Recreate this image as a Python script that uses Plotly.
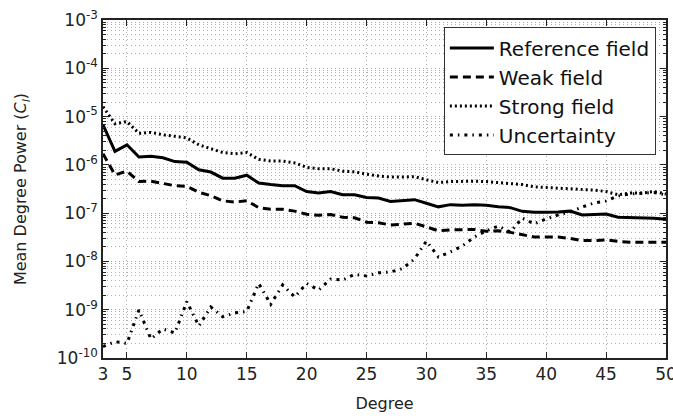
import plotly.graph_objects as go

degree = list(range(3, 51))

reference_field = [6.7e-6, 1.9e-6, 2.6e-6, 1.45e-6, 1.5e-6, 1.4e-6, 1.17e-6, 1.13e-6, 7.9e-7, 7.1e-7,
                   5.3e-7, 5.3e-7, 6.1e-7, 4.2e-7, 3.9e-7, 3.7e-7, 3.7e-7, 2.8e-7, 2.6e-7, 2.8e-7,
                   2.4e-7, 2.4e-7, 2.1e-7, 2.05e-7, 1.75e-7, 1.85e-7, 1.9e-7, 1.6e-7, 1.35e-7, 1.5e-7,
                   1.45e-7, 1.5e-7, 1.45e-7, 1.35e-7, 1.3e-7, 1.09e-7, 1.04e-7, 1.04e-7, 1.05e-7, 1.1e-7,
                   9.2e-8, 9.4e-8, 9.6e-8, 8.2e-8, 8.1e-8, 8.0e-8, 7.8e-8, 7.5e-8]

weak_field = [1.7e-6, 6.2e-7, 7.4e-7, 4.5e-7, 4.6e-7, 4.2e-7, 3.7e-7, 3.6e-7, 2.7e-7, 2.3e-7,
              1.8e-7, 1.7e-7, 1.8e-7, 1.3e-7, 1.2e-7, 1.2e-7, 1.1e-7, 9.5e-8, 9.0e-8, 9.4e-8,
              8.2e-8, 8.0e-8, 6.5e-8, 6.3e-8, 5.7e-8, 5.9e-8, 6.2e-8, 5.2e-8, 4.3e-8, 4.5e-8,
              4.5e-8, 4.6e-8, 4.2e-8, 4.3e-8, 4.0e-8, 3.6e-8, 3.2e-8, 3.2e-8, 3.2e-8, 3.0e-8,
              2.7e-8, 2.7e-8, 2.8e-8, 2.6e-8, 2.5e-8, 2.5e-8, 2.5e-8, 2.5e-8]

strong_field = [1.6e-5, 7.1e-6, 7.9e-6, 4.5e-6, 4.7e-6, 4.2e-6, 3.9e-6, 3.6e-6, 2.6e-6, 2.2e-6,
                1.8e-6, 1.7e-6, 1.8e-6, 1.3e-6, 1.2e-6, 1.2e-6, 1.1e-6, 8.9e-7, 8.3e-7, 8.3e-7,
                7.4e-7, 7.2e-7, 6.4e-7, 5.9e-7, 5.6e-7, 5.6e-7, 5.7e-7, 4.9e-7, 4.3e-7, 4.5e-7,
                4.6e-7, 4.6e-7, 4.5e-7, 4.3e-7, 4.0e-7, 3.9e-7, 3.5e-7, 3.4e-7, 3.3e-7, 3.2e-7,
                3.2e-7, 3.0e-7, 2.8e-7, 2.4e-7, 2.6e-7, 2.6e-7, 2.8e-7, 2.5e-7]

uncertainty = [1.72e-10, 2.18e-10, 2.0e-10, 9.9e-10, 2.48e-10, 4.0e-10, 3.3e-10, 1.47e-9, 4.6e-10, 1.14e-9,
               7.1e-10, 8.6e-10, 9.2e-10, 3.5e-9, 1.3e-9, 3.25e-9, 1.84e-9, 3.5e-9, 2.56e-9, 4.3e-9,
               4.1e-9, 5.4e-9, 5.0e-9, 5.8e-9, 6.05e-9, 7.1e-9, 1.12e-8, 2.65e-8, 1.24e-8, 1.57e-8,
               2.09e-8, 3.2e-8, 4.3e-8, 5.4e-8, 4.07e-8, 7.9e-8, 6.0e-8, 7.6e-8, 9.2e-8, 1.06e-7,
               1.34e-7, 1.62e-7, 1.79e-7, 2.27e-7, 2.49e-7, 2.62e-7, 2.68e-7, 2.38e-7]

x_tick_vals = [3, 5, 10, 15, 20, 25, 30, 35, 40, 45, 50]
y_exponents = [-10, -9, -8, -7, -6, -5, -4, -3]

series = [
    ("Reference field", reference_field, "solid"),
    ("Weak field", weak_field, "8px,5px"),
    ("Strong field", strong_field, "2px,3px"),
    ("Uncertainty", uncertainty, "3px,5px,1.5px,5px"),
]

fig = go.Figure()
for name, vals, dash in series:
    fig.add_trace(go.Scatter(
        x=degree, y=vals, mode="lines", name=name, legendgroup=name,
        line=dict(color="black", width=3, dash=dash),
    ))

grid_color = "#b0b0b0"
grid_dash = "1px,3px"
font_family = "DejaVu Sans"

fig.update_layout(
    width=673, height=418,
    margin=dict(l=103, r=7, t=20, b=60),
    paper_bgcolor="white", plot_bgcolor="white",
    font=dict(family=font_family, color="#222", size=16),
    legend=dict(
        x=0.982, xanchor="right", y=0.978, yanchor="top",
        bordercolor="#333", borderwidth=1, bgcolor="white",
        font=dict(size=20, color="#111"), itemwidth=44, tracegroupgap=0,
    ),
    xaxis=dict(
        range=[3, 50], tickmode="array", tickvals=x_tick_vals,
        showgrid=True, gridcolor=grid_color, griddash=grid_dash, gridwidth=1,
        showline=True, linecolor="#222", linewidth=1.5, mirror="allticks",
        ticks="inside", ticklen=6, tickcolor="#222", zeroline=False,
        tickfont=dict(size=17), ticklabeloverflow="allow", automargin=False,
        title=dict(text="Degree", font=dict(size=16), standoff=15),
    ),
    yaxis=dict(
        type="log", range=[-10, -3], tickmode="array",
        tickvals=[10.0 ** e for e in y_exponents],
        ticktext=["10<sup>%d</sup>" % e for e in y_exponents],
        showgrid=True, gridcolor=grid_color, griddash=grid_dash, gridwidth=1,
        showline=True, linecolor="#222", linewidth=1.5, mirror="allticks",
        ticks="inside", ticklen=6, tickcolor="#222", zeroline=False,
        tickfont=dict(size=17), automargin=False,
        minor=dict(
            tickmode="array",
            tickvals=[k * 10.0 ** e for e in y_exponents[:-1] for k in range(2, 10)],
            showgrid=True, gridcolor=grid_color, griddash=grid_dash, gridwidth=1,
            ticks="inside", ticklen=3, tickcolor="#222",
        ),
        title=dict(text="Mean Degree Power (<i>C<sub>l</sub></i>)", font=dict(size=16), standoff=26),
    ),
)

fig.write_html("out.html")
